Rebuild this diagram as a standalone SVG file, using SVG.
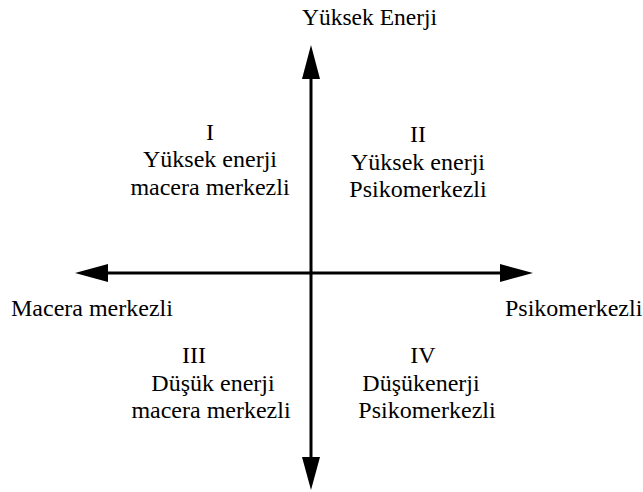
<svg xmlns="http://www.w3.org/2000/svg" width="643" height="492" viewBox="0 0 643 492" font-family="'Liberation Serif', 'Times New Roman', 'DejaVu Serif', serif">
<style>
text{font-family:'Liberation Serif','Times New Roman','DejaVu Serif',serif;fill:#000;font-size:24px}
.c{text-anchor:middle}
.ax{stroke:#000;stroke-width:3;fill:none}
.ah{fill:#000;stroke:none}
</style>
<rect width="643" height="492" fill="#fff"/>
<g id="connectors">
<line class="ax" x1="311" y1="70" x2="311" y2="464"/>
<polygon class="ah" points="311,45 302,79 320,79"/>
<polygon class="ah" points="311,490 302,457 320,457"/>
<line class="ax" x1="100" y1="273" x2="508" y2="273"/>
<polygon class="ah" points="75,273 108,264 108,282"/>
<polygon class="ah" points="533,273 500,264 500,282"/>
</g>
<g id="axis-top"><text x="302" y="25" style="font-size:23.5px">Yüksek Enerji</text></g>
<g id="axis-left"><text x="11" y="316">Macera merkezli</text></g>
<g id="axis-right"><text x="505" y="316">Psikomerkezli</text></g>
<g id="q1">
<text class="c" x="210" y="140">I</text>
<text class="c" x="210" y="167">Yüksek enerji</text>
<text class="c" x="210" y="195">macera merkezli</text>
</g>
<g id="q2">
<text class="c" x="418" y="142">II</text>
<text class="c" x="418" y="170">Yüksek enerji</text>
<text class="c" x="418" y="197">Psikomerkezli</text>
</g>
<g id="q3">
<text class="c" x="194" y="363">III</text>
<text class="c" x="213" y="391">Düşük enerji</text>
<text class="c" x="211" y="418">macera merkezli</text>
</g>
<g id="q4">
<text class="c" x="423" y="363">IV</text>
<text class="c" x="421" y="391">Düşükenerji</text>
<text class="c" x="427" y="418">Psikomerkezli</text>
</g>
</svg>
